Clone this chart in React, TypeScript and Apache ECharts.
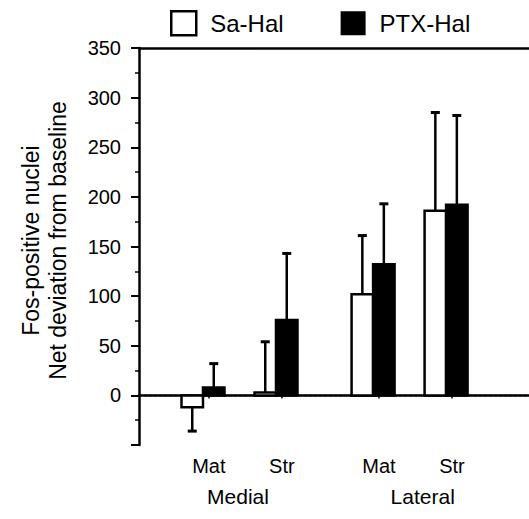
import React, { useEffect, useRef } from "react";
import * as echarts from "echarts";

// ---- data ----
const categories = ["Mat", "Str", "Mat", "Str"];
const regions = ["Medial", "Lateral"];
const seriesNames = ["Sa-Hal", "PTX-Hal"];
const saHal = [-12, 3, 102, 186];
const saHalErr = [24, 51, 59, 99];
const ptxHal = [8, 76, 132, 192];
const ptxHalErr = [24, 67, 61, 90];
const yTicks = { min: -50, max: 350, step: 50 };

// ---- layout constants (axis units on a value x-axis) ----
const X_MIN = 0.1233;
const X_MAX = 5.4658;
const SLOT_X = [1, 2, 3.33, 4.33];
const LABEL_X = SLOT_X.map((x) => x + 0.08);
const REGION_X = [1.48, 4.01];
const BAR_W = 21.5;
const FONT = "Arial, 'Liberation Sans', Helvetica, sans-serif";

function makeRender(side: number, fill: string) {
  return (params: any, api: any) => {
    const pos = api.value(0);
    const v = api.value(1);
    const e = api.value(2);
    const base = api.coord([pos, 0]);
    const top = api.coord([pos, v]);
    const end = api.coord([pos, v + (v >= 0 ? e : -e)]);
    const x0 = side < 0 ? base[0] - BAR_W : base[0];
    const cx = x0 + BAR_W / 2;
    return {
      type: "group",
      children: [
        {
          type: "line",
          shape: { x1: cx, y1: top[1], x2: cx, y2: end[1] },
          style: { stroke: "#000", lineWidth: 2.5 },
        },
        {
          type: "line",
          shape: { x1: cx - 4.5, y1: end[1], x2: cx + 4.5, y2: end[1] },
          style: { stroke: "#000", lineWidth: 3 },
        },
        {
          type: "rect",
          shape: {
            x: x0,
            y: Math.min(base[1], top[1]),
            width: BAR_W,
            height: Math.max(Math.abs(top[1] - base[1]), 1),
          },
          style: { fill, stroke: "#000", lineWidth: 2.5 },
        },
      ],
    };
  };
}

function nearestIndex(arr: number[], v: number) {
  let best = -1;
  let bd = Infinity;
  arr.forEach((a, i) => {
    const d = Math.abs(a - v);
    if (d < bd) {
      bd = d;
      best = i;
    }
  });
  return bd < 0.05 ? best : -1;
}

export default function App() {
  const ref = useRef<HTMLDivElement>(null);
  useEffect(() => {
    if (!ref.current) return;
    const chart = echarts.init(ref.current, undefined, { renderer: "svg" });
    const saData = SLOT_X.map((x, i) => [x, saHal[i], saHalErr[i]]);
    const ptxData = SLOT_X.map((x, i) => [x, ptxHal[i], ptxHalErr[i]]);
    chart.setOption({
      animation: false,
      backgroundColor: "#fff",
      textStyle: { fontFamily: FONT, color: "#000" },
      grid: { left: 139, right: 0, top: 48, bottom: 74, containLabel: false },
      legend: {
        left: 170,
        top: 10,
        padding: 0,
        itemWidth: 25,
        itemHeight: 24,
        itemGap: 57,
        formatter: (name: string) => `{t|${name}}`,
        textStyle: {
          fontSize: 24,
          color: "#000",
          fontFamily: FONT,
          rich: { t: { fontSize: 24, color: "#000", fontFamily: FONT, padding: [0, 0, 0, 9] } },
        },
        data: [
          { name: seriesNames[0], icon: "rect", itemStyle: { color: "#fff", borderColor: "#000", borderWidth: 2.5 } },
          { name: seriesNames[1], icon: "rect", itemStyle: { color: "#000", borderColor: "#000", borderWidth: 0 } },
        ],
      },
      xAxis: [
        {
          type: "value",
          position: "bottom",
          min: X_MIN,
          max: X_MAX,
          splitLine: { show: false },
          axisLine: { show: true, lineStyle: { color: "#000", width: 2.5 } },
          axisTick: { show: true, customValues: LABEL_X, length: 3, lineStyle: { color: "#000", width: 1.5 } },
          axisLabel: {
            customValues: LABEL_X,
            margin: 11,
            fontSize: 20,
            color: "#000",
            fontFamily: FONT,
            formatter: (v: number) => {
              const i = nearestIndex(LABEL_X, v);
              return i >= 0 ? categories[i] : "";
            },
          },
        },
        {
          type: "value",
          position: "bottom",
          offset: 0,
          min: X_MIN,
          max: X_MAX,
          splitLine: { show: false },
          axisLine: { show: false },
          axisTick: { show: false },
          axisLabel: {
            customValues: REGION_X,
            margin: 41,
            fontSize: 21,
            color: "#000",
            fontFamily: FONT,
            formatter: (v: number) => {
              const i = nearestIndex(REGION_X, v);
              return i >= 0 ? regions[i] : "";
            },
          },
        },
        {
          type: "value",
          position: "top",
          min: X_MIN,
          max: X_MAX,
          splitLine: { show: false },
          axisLine: { show: true, lineStyle: { color: "#000", width: 2.5 } },
          axisTick: { show: false },
          axisLabel: { show: false },
        },
      ],
      yAxis: {
        type: "value",
        min: yTicks.min,
        max: yTicks.max,
        interval: yTicks.step,
        splitLine: { show: false },
        axisLine: { show: true, lineStyle: { color: "#000", width: 2.5 } },
        axisTick: { show: true, length: 8, lineStyle: { color: "#000", width: 2 } },
        minorTick: { show: true, splitNumber: 2, length: 4, lineStyle: { color: "#000", width: 1.5 } },
        axisLabel: {
          margin: 18,
          fontSize: 20,
          color: "#000",
          fontFamily: FONT,
          formatter: (v: number) => (v < 0 ? "" : String(v)),
        },
        name: "Fos-positive nuclei\nNet deviation from baseline",
        nameLocation: "middle",
        nameGap: 68,
        nameTextStyle: {
          fontSize: 23,
          lineHeight: 27,
          color: "#000",
          fontFamily: FONT,
          padding: [0, 0, 0, 12],
        },
      },
      series: [
        {
          type: "line",
          name: "zero",
          xAxisIndex: 0,
          data: [
            [X_MIN, 0],
            [X_MAX, 0],
          ],
          symbol: "none",
          silent: true,
          z: 1,
          lineStyle: { color: "#000", width: 1.5, type: [3, 2] },
        },
        {
          type: "custom",
          name: seriesNames[0],
          xAxisIndex: 0,
          data: saData,
          encode: { x: 0, y: 1 },
          renderItem: makeRender(-1, "#fff"),
          itemStyle: { color: "#fff", borderColor: "#000", borderWidth: 2 },
          z: 2,
        },
        {
          type: "custom",
          name: seriesNames[1],
          xAxisIndex: 0,
          data: ptxData,
          encode: { x: 0, y: 1 },
          renderItem: makeRender(1, "#000"),
          itemStyle: { color: "#000" },
          z: 2,
        },
      ],
    });
    return () => chart.dispose();
  }, []);
  return (
    <div
      ref={ref}
      style={{ position: "fixed", left: 0, top: 0, width: 529, height: 519, background: "#fff" }}
    />
  );
}
